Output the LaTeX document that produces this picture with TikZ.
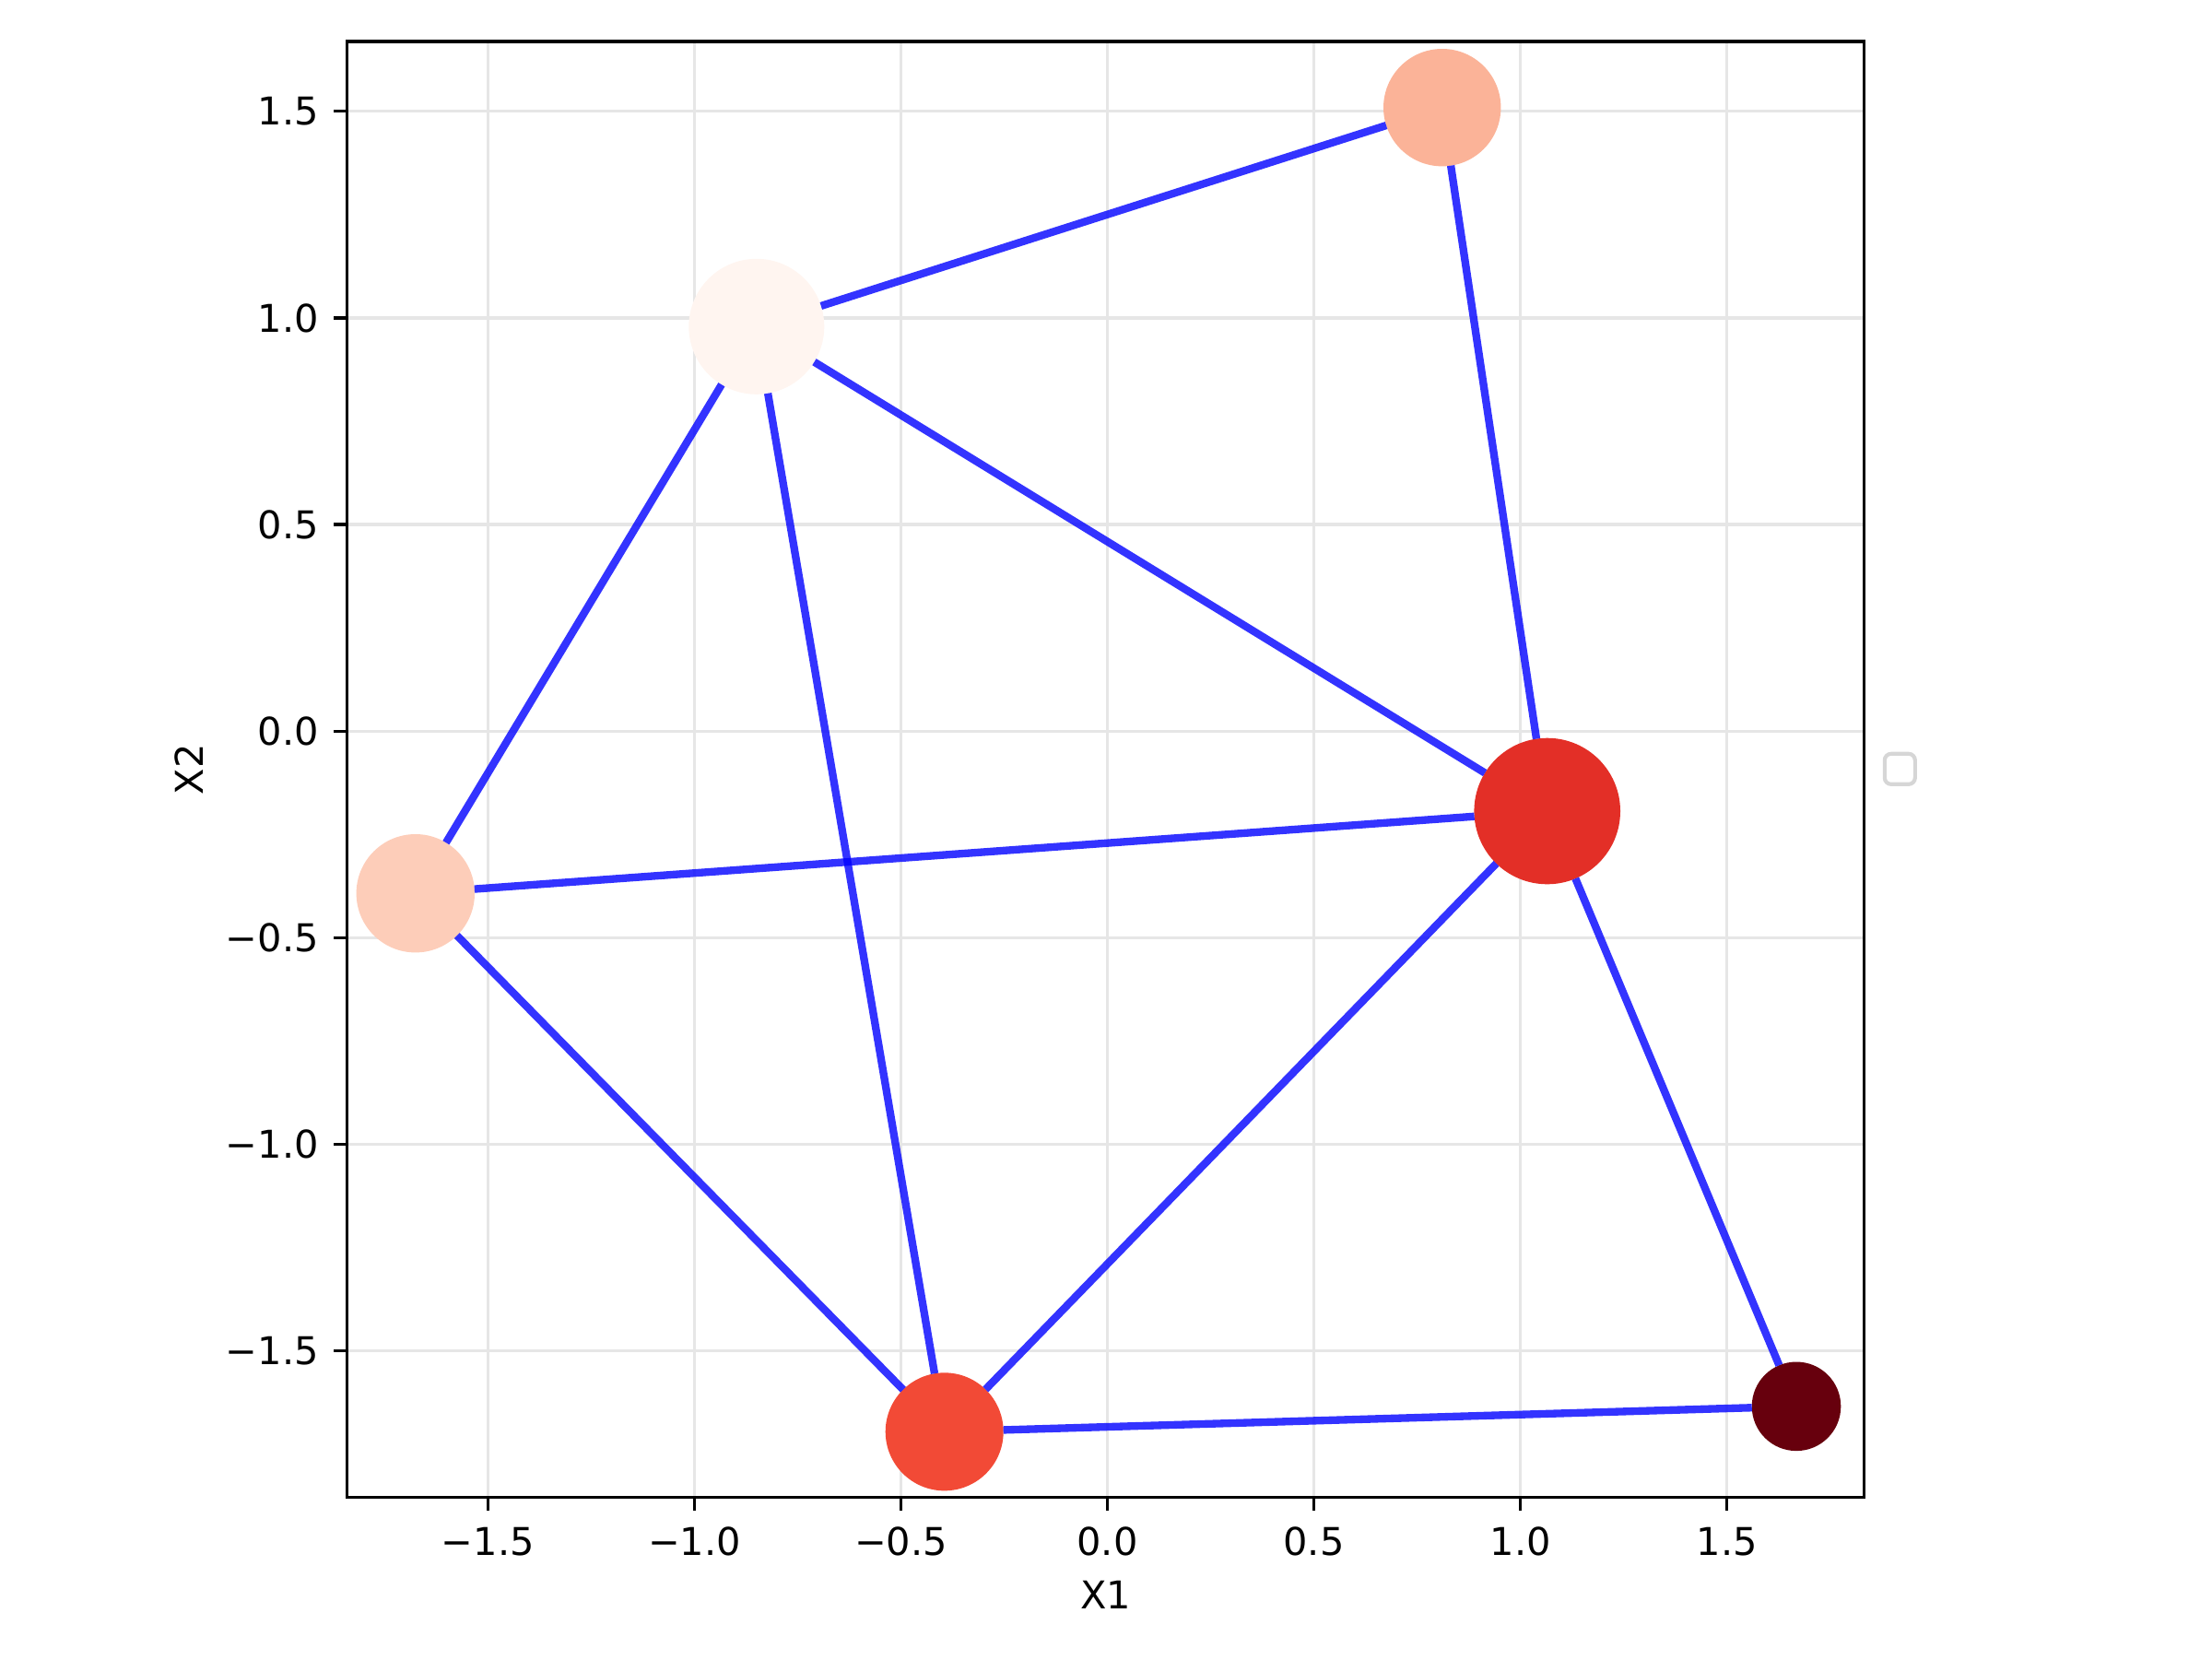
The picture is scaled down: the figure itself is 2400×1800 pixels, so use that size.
\documentclass[tikz,border=0pt]{standalone}
\usepackage{fontspec}
\setmainfont{DejaVu Sans}
\newdimen\pxu
\pxu=0.2409pt
\definecolor{gridgray}{HTML}{E6E6E6}
\definecolor{legendgray}{HTML}{D6D6D6}
\definecolor{cA}{HTML}{FBB398}
\definecolor{cB}{HTML}{FFF5F0}
\definecolor{cC}{HTML}{FDCDB9}
\definecolor{cD}{HTML}{E32F27}
\definecolor{cE}{HTML}{F24A36}
\definecolor{cF}{HTML}{67000D}
\begin{document}
\begin{tikzpicture}[x=0.2409pt, y=-0.2409pt,
  gridline/.style={draw=gridgray, line width=0.8bp},
  edge/.style={draw=blue, draw opacity=0.8, line width=2bp},
  vertex/.style={circle, inner sep=0pt, outer sep=0pt, draw=none},
  tickmark/.style={draw=black, line width=0.8bp},
  ticklabel/.style={inner sep=0pt, font=\fontsize{10}{12}\selectfont},
  frame/.style={draw=black, line width=0.8bp}]
\useasboundingbox (0,0) rectangle (2400,1800);
% grid
\foreach \v in {-1.5,-1.0,-0.5,0.0,0.5,1.0,1.5} {
  \draw[gridline] ({1201.5+448.1*\v},45) -- ({1201.5+448.1*\v},1624.5);
  \draw[gridline] (376.5,{793.2-448.3*\v}) -- (2022.5,{793.2-448.3*\v});
}
% nodes
\node[vertex, fill=cA, minimum size=127.4\pxu] (n1) at (1564.7,116.7) {};
\node[vertex, fill=cB, minimum size=147.0\pxu] (n2) at (820.8,354.3) {};
\node[vertex, fill=cC, minimum size=128.4\pxu] (n3) at (450.8,969.2) {};
\node[vertex, fill=cD, minimum size=158.6\pxu] (n4) at (1678.7,880) {};
\node[vertex, fill=cE, minimum size=128.0\pxu] (n5) at (1024.7,1553.3) {};
\node[vertex, fill=cF, minimum size=96.6\pxu] (n6) at (1949,1525.8) {};
% edges
\draw[edge] (n2) -- (n1);
\draw[edge] (n2) -- (n3);
\draw[edge] (n2) -- (n5);
\draw[edge] (n2) -- (n4);
\draw[edge] (n1) -- (n4);
\draw[edge] (n3) -- (n4);
\draw[edge] (n3) -- (n5);
\draw[edge] (n5) -- (n4);
\draw[edge] (n4) -- (n6);
\draw[edge] (n5) -- (n6);
% axes frame
\draw[frame] (376.5,45) rectangle (2022.5,1624.5);
% ticks and labels
\foreach \v/\t in {-1.5/−1.5,-1.0/−1.0,-0.5/−0.5,0.0/0.0,0.5/0.5,1.0/1.0,1.5/1.5} {
  \draw[tickmark] ({1201.5+448.1*\v},1624.5) -- ({1201.5+448.1*\v},1639.1);
  \node[ticklabel, anchor=base] at ({1201.5+448.1*\v},1687.3) {\t};
  \draw[tickmark] (376.5,{793.2-448.3*\v}) -- (361.9,{793.2-448.3*\v});
  \node[ticklabel, anchor=east] at (346.5,{793.2-448.3*\v}) {\t};
}
\node[ticklabel, anchor=base] (xlab) at (1199.5,1745.7) {X1};
\node[ticklabel, anchor=base, rotate=90] (ylab) at (220.7,834.75) {X2};
% empty legend box
\node[draw=legendgray, line width=1bp, rounded corners=7\pxu, inner sep=0pt,
  minimum width=33\pxu, minimum height=33\pxu] (legend) at (2061.3,834.3) {};
\end{tikzpicture}
\end{document}
